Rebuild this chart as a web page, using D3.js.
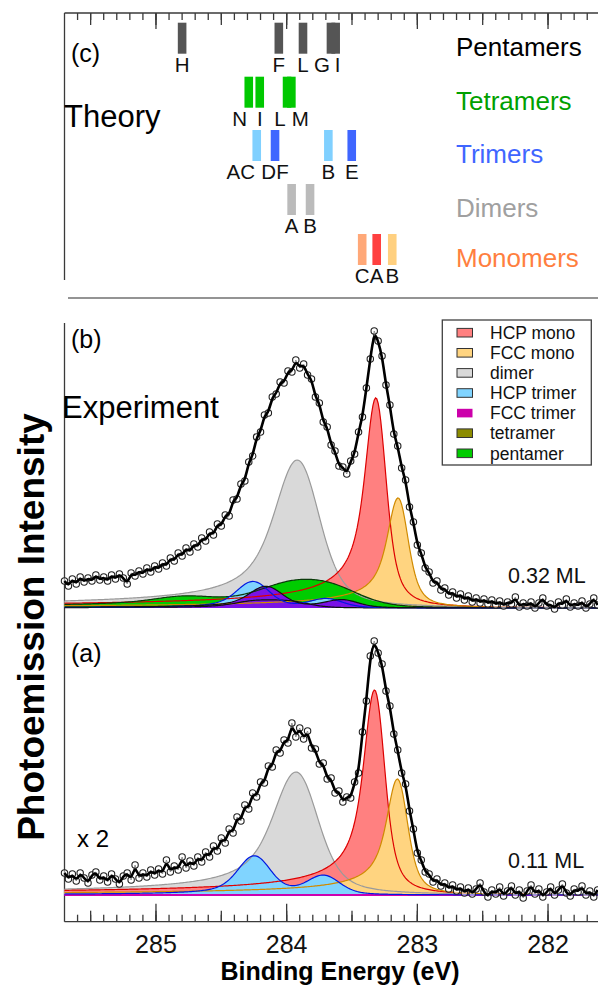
<!DOCTYPE html>
<html>
<head>
<meta charset="utf-8">
<script src="https://cdn.jsdelivr.net/npm/d3@7"></script>
<style>
  html, body { margin: 0; padding: 0; background: #fff; }
  svg { display: block; font-family: "Liberation Sans", Arial, sans-serif; }
</style>
</head>
<body>
<svg id="chart" width="598" height="985"></svg>
<script>
// ---------------- Data ----------------
// Binding-energy axis (eV, decreasing to the right) and labelled ticks
const energyDomain = [285.7, 281.6];
const majorTicks = [285, 284, 283, 282];

// Theory: calculated C 1s positions per cluster size and site
const theoryGroups = ["Pentamers", "Tetramers", "Trimers", "Dimers", "Monomers"];
const pentamerSites = [
  { site: "H", e: 284.80 }, { site: "F", e: 284.06 }, { site: "L", e: 283.875 },
  { site: "G", e: 283.661 }, { site: "I", e: 283.625 }
];
const tetramerSites = [
  { site: "N", e: 284.29 }, { site: "I", e: 284.206 },
  { site: "L", e: 283.997 }, { site: "M", e: 283.964 }
];
const trimerSites = [
  { site: "AC", e: 284.229, stacking: "HCP" }, { site: "DF", e: 284.089, stacking: "FCC" },
  { site: "B", e: 283.681, stacking: "HCP" }, { site: "E", e: 283.502, stacking: "FCC" }
];
const dimerSites = [{ site: "A", e: 283.962 }, { site: "B", e: 283.821 }];
const monomerSites = [{ site: "C", e: 283.422 }, { site: "A", e: 283.311 }, { site: "B", e: 283.192 }];

// Experiment: spectra recorded on a uniform energy grid
const energyStart = 285.70;   // eV, first channel
const energyStep = 0.03;      // eV per channel (towards lower binding energy)
const coverages = ["0.32 ML", "0.11 ML"];
const intensity032 = [
  27,22,29,24,31,26,30,27,33,28, 31,27,33,29,34,30,24,35,32,37,
  34,40,36,42,39,45,42,50,47,55, 52,60,56,64,61,70,67,76,73,84,
  82,93,92,108,109,124,127,146,152,171, 176,193,195,211,214,226,225,237,236,248,
  240,244,233,229,211,205,186,181,163,157, 142,141,134,147,154,176,191,220,249,277,
  267,252,223,203,174,162,140,128,101,86, 63,55,40,36,25,27,18,20,13,16,
  10,14,8,12,6,10,5,9,4,8, 3,7,2,6,4,11,1,5,2,6,
  0,5,10,2,4,-1,6,3,9,1, 5,2,7,0,4,10,3
];
const intensity011 = [
  22,16,21,14,22,17,12,20,23,15, 19,13,21,16,11,19,22,15,30,17,
  22,18,25,20,26,21,35,23,29,25, 38,27,34,29,38,33,43,38,49,44,
  57,52,66,62,78,74,90,86,102,98, 113,112,129,128,145,142,155,152,172,158,
  167,156,164,147,146,131,132,116,117,102, 104,93,98,97,113,122,163,194,239,254,
  242,231,204,189,161,145,122,111,84,66, 42,35,23,21,13,16,9,12,6,10,
  4,8,2,7,1,6,12,3,-2,5, 1,8,-1,4,9,0,5,-3,4,10,
  1,6,-2,3,8,0,5,11,2,-1, 6,3,9,0,4,-2,5
];

// Fit components: Doniach-Sunjic lines (gamma, asymmetry) broadened by a Gaussian (sigma)
const componentNames = ["HCP mono", "FCC mono", "dimer", "HCP trimer", "FCC trimer", "tetramer", "pentamer"];
const shapeGamma = [0.05, 0.05, 0.09, 0.05, 0.05, 0.05, 0.08];
const shapeAsym  = [0.14, 0.14, 0.12, 0.06, 0.10, 0.10, 0.15];
const shapeSigma = [0.05, 0.05, 0.12, 0.10, 0.10, 0.12, 0.18];

// Fitted peak positions (eV) and heights for each coverage
const peaks032 = [
  { comp: "HCP mono", e: 283.32, h: 210 },
  { comp: "FCC mono", e: 283.15, h: 110 },
  { comp: "dimer", e: 283.92, h: 148 },
  { comp: "HCP trimer", e: 284.26, h: 26 }, { comp: "HCP trimer", e: 283.70, h: 9 },
  { comp: "FCC trimer", e: 284.16, h: 21 }, { comp: "FCC trimer", e: 283.58, h: 8 },
  { comp: "tetramer", e: 284.29, h: 3 }, { comp: "tetramer", e: 284.21, h: 3 },
  { comp: "tetramer", e: 284.00, h: 3 }, { comp: "tetramer", e: 283.96, h: 3 },
  { comp: "pentamer", e: 284.80, h: 7 }, { comp: "pentamer", e: 284.06, h: 11 },
  { comp: "pentamer", e: 283.875, h: 10 }, { comp: "pentamer", e: 283.66, h: 8 },
  { comp: "pentamer", e: 283.625, h: 8 }
];
const peaks011 = [
  { comp: "HCP mono", e: 283.33, h: 205 },
  { comp: "FCC mono", e: 283.155, h: 116 },
  { comp: "dimer", e: 283.93, h: 123 },
  { comp: "HCP trimer", e: 284.25, h: 38 }, { comp: "HCP trimer", e: 283.72, h: 19 },
  { comp: "FCC trimer", e: 284.16, h: 0 },
  { comp: "tetramer", e: 284.10, h: 0 },
  { comp: "pentamer", e: 284.00, h: 0 }
];

// ---------------- Styles ----------------
const compFill = {
  "HCP mono": "#ff8080", "FCC mono": "#ffd480", "dimer": "#d9d9d9",
  "HCP trimer": "#80d4ff", "FCC trimer": "#7a12e6", "tetramer": "#8c8c00", "pentamer": "#00cc00"
};
const compStroke = {
  "HCP mono": "#dd0000", "FCC mono": "#d08a00", "dimer": "#9a9a9a",
  "HCP trimer": "#0018e0", "FCC trimer": "#111111", "tetramer": "#111111", "pentamer": "#0a3a0a"
};
// empty components in the low-coverage fit show only as coloured base lines
const emptyStroke = { "FCC trimer": "#cc00b0", "tetramer": "#7a12e6", "pentamer": "#7a12e6" };
const legendFill = {
  "HCP mono": "#ff8080", "FCC mono": "#ffd480", "dimer": "#d9d9d9",
  "HCP trimer": "#80d4ff", "FCC trimer": "#cc00aa", "tetramer": "#8c8c00", "pentamer": "#00cc00"
};
const drawOrder = ["dimer", "HCP mono", "FCC mono", "pentamer", "tetramer", "HCP trimer", "FCC trimer"];

const groupColor = {
  Pentamers: "#000000", Tetramers: "#00a000", Trimers: "#3f66ff", Dimers: "#a0a0a0", Monomers: "#ff7f3f"
};
const barColor = {
  Pentamers: () => "#555555",
  Tetramers: () => "#00c800",
  Trimers: d => d.stacking === "HCP" ? "#80d0ff" : "#3f66ff",
  Dimers: () => "#bbbbbb",
  Monomers: d => ({ C: "#ffa878", A: "#ff4040", B: "#ffd080" })[d.site]
};

// ---------------- Layout ----------------
const svg = d3.select("#chart");
const x = d3.scaleLinear().domain(energyDomain).range([64.5, 600.3]);
const axisColor = "#3a3a3a";

// ---------- Theory panel (c) ----------
const topY = 13;
svg.append("line").attr("x1", 64.5).attr("x2", 598).attr("y1", topY).attr("y2", topY)
  .attr("stroke", axisColor).attr("stroke-width", 1.3);
svg.append("line").attr("x1", 64.5).attr("x2", 64.5).attr("y1", topY).attr("y2", 280)
  .attr("stroke", axisColor).attr("stroke-width", 1.3);

function tickSet(g, values, len, dir) {
  g.selectAll(null).data(values.filter(v => x(v) > 65 && x(v) < 598)).join("line")
    .attr("x1", d => x(d)).attr("x2", d => x(d))
    .attr("y1", 0).attr("y2", dir * len)
    .attr("stroke", axisColor).attr("stroke-width", 1.3);
}
const minorTicks = x.ticks(40);
const halfTicks = x.ticks(8);
const topTicks = svg.append("g").attr("transform", `translate(0,${topY})`);
tickSet(topTicks, minorTicks, 7, 1);
tickSet(topTicks, halfTicks, 12, 1);
tickSet(topTicks, majorTicks, 16, 1);

svg.append("text").attr("x", 71).attr("y", 62).attr("font-size", 25).text("(c)");
svg.append("text").attr("x", 64).attr("y", 127).attr("font-size", 31).text("Theory");

const rowTop = { Pentamers: 22.7, Tetramers: 76.7, Trimers: 130, Dimers: 184, Monomers: 234 };
const siteLists = {
  Pentamers: pentamerSites, Tetramers: tetramerSites, Trimers: trimerSites,
  Dimers: dimerSites, Monomers: monomerSites
};
// label nudges where neighbouring bars overlap
const labelShift = {
  "Pentamers:G": -9, "Pentamers:I": 2,
  "Tetramers:N": -9, "Tetramers:L": -7, "Tetramers:M": 9,
  "Trimers:AC": -16
};
const barW = 8.6, barH = 31;
theoryGroups.forEach(grp => {
  const g = svg.append("g");
  const sites = siteLists[grp];
  g.selectAll("rect").data(sites).join("rect")
    .attr("x", d => x(d.e) - barW / 2).attr("y", rowTop[grp])
    .attr("width", barW).attr("height", barH)
    .attr("fill", d => barColor[grp](d));
  g.selectAll("text").data(sites).join("text")
    .attr("x", d => x(d.e) + (labelShift[grp + ":" + d.site] || 0))
    .attr("y", rowTop[grp] + 49)
    .attr("text-anchor", "middle").attr("font-size", 20.5).attr("fill", "#111")
    .text(d => d.site);
  svg.append("text").attr("x", 456).attr("y", rowTop[grp] + 33)
    .attr("font-size", 26).attr("fill", groupColor[grp]).text(grp);
});

// separator between theory and experiment
svg.append("line").attr("x1", 68).attr("x2", 598).attr("y1", 298).attr("y2", 298)
  .attr("stroke", "#707070").attr("stroke-width", 1.5);

// ---------- Experiment panels ----------
const axisY = 921.7;
svg.append("line").attr("x1", 64.5).attr("x2", 64.5).attr("y1", 323).attr("y2", axisY)
  .attr("stroke", axisColor).attr("stroke-width", 1.3);
svg.append("line").attr("x1", 64.5).attr("x2", 598).attr("y1", axisY).attr("y2", axisY)
  .attr("stroke", axisColor).attr("stroke-width", 1.3);
const botTicks = svg.append("g").attr("transform", `translate(0,${axisY})`);
tickSet(botTicks, minorTicks, 7, -1);
tickSet(botTicks, halfTicks, 11, -1);
tickSet(botTicks, majorTicks, 18, -1);
svg.append("g").selectAll("text").data(majorTicks).join("text")
  .attr("x", d => x(d)).attr("y", 953).attr("text-anchor", "middle")
  .attr("font-size", 25).attr("fill", "#111").text(d => d);
svg.append("text").attr("x", 340).attr("y", 980).attr("text-anchor", "middle")
  .attr("font-size", 25).attr("font-weight", "bold").text("Binding Energy (eV)");
svg.append("text").attr("transform", "translate(44,627) rotate(-90)")
  .attr("text-anchor", "middle").attr("font-size", 37).attr("font-weight", "bold")
  .text("Photoemission Intensity");

// line-shape profiles, normalised to unit maximum located at dE = 0
const fineStep = 0.005, halfSpan = 4.6;
function lineProfile(gam, asym, sig) {
  const n = Math.round(2 * halfSpan / fineStep) + 1;
  const u = Float64Array.from({ length: n }, (_, i) => -halfSpan + i * fineStep);
  const ds = u.map(v => {
    const eps = -v;
    return Math.cos(Math.PI * asym / 2 + (1 - asym) * Math.atan(eps / gam)) /
      Math.pow(eps * eps + gam * gam, (1 - asym) / 2);
  });
  const kN = Math.ceil(4 * sig / fineStep);
  const kern = [];
  for (let k = -kN; k <= kN; k++) kern.push(Math.exp(-0.5 * Math.pow(k * fineStep / sig, 2)));
  const conv = new Float64Array(n);
  for (let i = 0; i < n; i++) {
    let acc = 0;
    for (let k = -kN; k <= kN; k++) {
      const j = i - k;
      if (j >= 0 && j < n) acc += ds[j] * kern[k + kN];
    }
    conv[i] = acc;
  }
  const im = d3.maxIndex(conv), peak = conv[im], shift = u[im];
  return dE => {
    const f = (dE + shift + halfSpan) / fineStep;
    const i0 = Math.floor(f);
    if (i0 < 0 || i0 >= n - 1) return 0;
    const t = f - i0;
    return (conv[i0] * (1 - t) + conv[i0 + 1] * t) / peak;
  };
}
const profiles = {};
componentNames.forEach((c, i) => { profiles[c] = lineProfile(shapeGamma[i], shapeAsym[i], shapeSigma[i]); });

const curveGrid = d3.range(0, 411).map(i => energyDomain[0] - i * 0.01);

function drawPanel(intensity, peaks, baseY, label, labelY, coverage, covY) {
  const y = d3.scaleLinear().domain([0, 300]).range([baseY, baseY - 300]);
  const g = svg.append("g");
  const comps = drawOrder.filter(c => peaks.some(p => p.comp === c)).map(c => {
    const ps = peaks.filter(p => p.comp === c);
    return {
      comp: c, empty: d3.max(ps, p => p.h) === 0,
      pts: curveGrid.map(E => [E, d3.sum(ps, p => p.h * profiles[c](E - p.e))])
    };
  });
  const area = d3.area().x(d => x(d[0])).y0(y(0)).y1(d => y(d[1]));
  const line = d3.line().x(d => x(d[0])).y(d => y(d[1]));
  g.selectAll("path.fill").data(comps.filter(d => !d.empty)).join("path").attr("class", "fill")
    .attr("d", d => area(d.pts)).attr("fill", d => compFill[d.comp]);
  // empty components first so the filled outlines stay on top
  const edges = comps.filter(d => d.empty).concat(comps.filter(d => !d.empty));
  g.selectAll("path.edge").data(edges).join("path").attr("class", "edge")
    .attr("d", d => line(d.pts)).attr("fill", "none")
    .attr("stroke", d => d.empty ? emptyStroke[d.comp] : compStroke[d.comp])
    .attr("stroke-width", d => d.empty ? 2 : 1.2);

  const pts = intensity.map((v, i) => [energyStart - i * energyStep, v]);
  g.append("path").attr("d", line(pts)).attr("fill", "none")
    .attr("stroke", "#111").attr("stroke-width", 0.9);
  g.selectAll("circle").data(pts).join("circle")
    .attr("cx", d => x(d[0])).attr("cy", d => y(d[1])).attr("r", 3.2)
    .attr("fill", "#fff").attr("fill-opacity", 0.5)
    .attr("stroke", "#222").attr("stroke-width", 1.1);
  g.append("path").attr("d", d3.line().curve(d3.curveBasis).x(d => x(d[0])).y(d => y(d[1]))(pts))
    .attr("fill", "none").attr("stroke", "#000").attr("stroke-width", 2.6);

  svg.append("text").attr("x", 71).attr("y", labelY).attr("font-size", 25).text(label);
  svg.append("text").attr("x", 508).attr("y", covY).attr("font-size", 21.5).attr("fill", "#111")
    .text(coverage);
}
drawPanel(intensity032, peaks032, 608, "(b)", 348, coverages[0], 583);
drawPanel(intensity011, peaks011, 895, "(a)", 662, coverages[1], 868);

svg.append("text").attr("x", 62).attr("y", 418).attr("font-size", 31).text("Experiment");
svg.append("text").attr("x", 77).attr("y", 847).attr("font-size", 24).text("x 2");

// ---------- Legend ----------
const legend = svg.append("g");
legend.append("rect").attr("x", 442.3).attr("y", 320).attr("width", 149).attr("height", 145)
  .attr("fill", "#fff").attr("stroke", "#404040").attr("stroke-width", 1.3);
const rows = legend.selectAll("g.row").data(componentNames).join("g").attr("class", "row")
  .attr("transform", (d, i) => `translate(0,${332.7 + i * 20.1})`);
rows.append("rect").attr("x", 457).attr("y", -4.3).attr("width", 15.5).attr("height", 8.6)
  .attr("fill", d => legendFill[d])
  .attr("stroke", d => d === "FCC trimer" ? "none" : "#333").attr("stroke-width", 1);
rows.append("text").attr("x", 490).attr("y", 6.2).attr("font-size", 17.5).attr("fill", "#111").text(d => d);
</script>
</body>
</html>
